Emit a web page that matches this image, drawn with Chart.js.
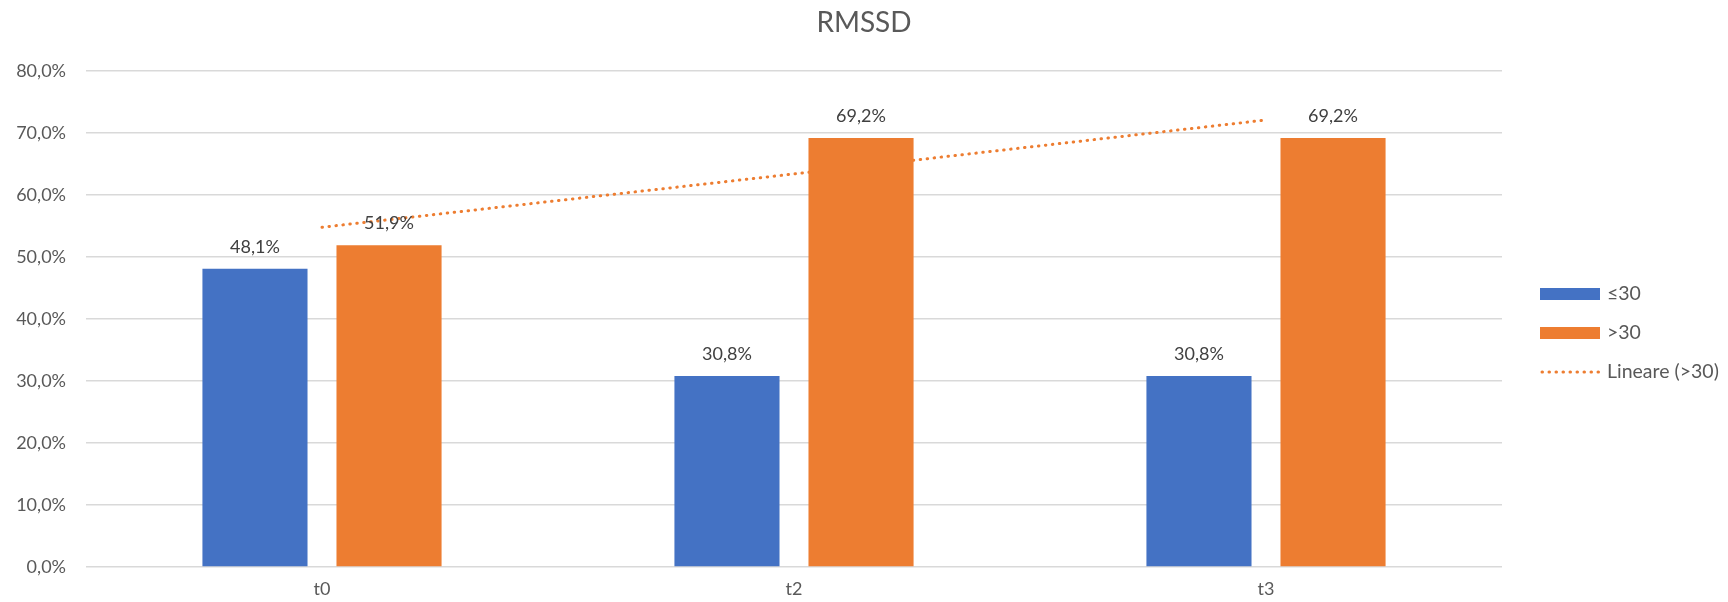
<!DOCTYPE html>
<html>
<head>
<meta charset="utf-8">
<title>RMSSD</title>
<script src="https://cdn.jsdelivr.net/npm/chart.js@4.4.1/dist/chart.umd.min.js"></script>
<style>
  html, body { margin: 0; padding: 0; background: #ffffff; }
  #wrap { width: 1728px; height: 602px; position: relative; }
</style>
</head>
<body>
<div id="wrap"><canvas id="chart" width="1728" height="602"></canvas></div>
<script>
// Time points and percentages per RMSSD group
const categories = ['t0', 't2', 't3'];
const seriesLow = [48.1, 30.8, 30.8];    // ≤30
const seriesHigh = [51.9, 69.2, 69.2];   // >30
const trendHigh = [54.8, 63.4, 72.1];    // linear trend of >30
const seriesNames = ['≤30', '>30', 'Lineare (>30)'];
const yTicks = [0, 10, 20, 30, 40, 50, 60, 70, 80];
const chartTitle = 'RMSSD';

const FONT = 'Lato, "Open Sans", sans-serif';
const BLUE = '#4472C4';
const ORANGE = '#ED7D31';
const TEXT = '#595959';

const fmt = v => v.toFixed(1).replace('.', ',') + '%';

// title centred on the whole canvas
const pageTitle = {
  id: 'pageTitle',
  afterDraw(chart) {
    const ctx = chart.ctx;
    ctx.save();
    ctx.font = '28px ' + FONT;
    ctx.fillStyle = TEXT;
    ctx.textAlign = 'center';
    ctx.textBaseline = 'middle';
    ctx.fillText(chartTitle, chart.width / 2, 23);
    ctx.restore();
  }
};

// value labels above each bar
const barLabels = {
  id: 'barLabels',
  afterDatasetsDraw(chart) {
    const ctx = chart.ctx;
    ctx.save();
    ctx.font = '18px ' + FONT;
    ctx.fillStyle = '#404040';
    ctx.textAlign = 'center';
    ctx.textBaseline = 'bottom';
    chart.data.datasets.forEach((ds, i) => {
      if (ds.type === 'line') return;
      const meta = chart.getDatasetMeta(i);
      meta.data.forEach((bar, j) => {
        ctx.fillText(fmt(ds.data[j]), bar.x, bar.y - 13);
      });
    });
    ctx.restore();
  }
};

// legend on the right side
const sideLegend = {
  id: 'sideLegend',
  afterDraw(chart) {
    const ctx = chart.ctx;
    const x0 = chart.chartArea.right + 38;
    const yStart = 294;
    const step = 39;
    ctx.save();
    ctx.font = '19.5px ' + FONT;
    ctx.textBaseline = 'middle';
    ctx.textAlign = 'left';
    chart.data.datasets.forEach((ds, i) => {
      const y = yStart + i * step;
      if (ds.type === 'line') {
        ctx.strokeStyle = ds.borderColor;
        ctx.lineWidth = 3;
        ctx.lineCap = 'round';
        ctx.setLineDash([0.5, 6.5]);
        ctx.beginPath();
        ctx.moveTo(x0 + 2, y);
        ctx.lineTo(x0 + 60, y);
        ctx.stroke();
        ctx.setLineDash([]);
      } else {
        ctx.fillStyle = ds.backgroundColor;
        ctx.fillRect(x0, y - 6, 60, 12);
      }
      ctx.fillStyle = TEXT;
      ctx.fillText(ds.label, x0 + 67, y);
    });
    ctx.restore();
  }
};

new Chart(document.getElementById('chart'), {
  type: 'bar',
  data: {
    labels: categories,
    datasets: [
      {
        label: seriesNames[0],
        data: seriesLow,
        backgroundColor: BLUE,
        categoryPercentage: 0.568,
        barPercentage: 0.784,
        order: 1
      },
      {
        label: seriesNames[1],
        data: seriesHigh,
        backgroundColor: ORANGE,
        categoryPercentage: 0.568,
        barPercentage: 0.784,
        order: 1
      },
      {
        type: 'line',
        label: seriesNames[2],
        data: trendHigh,
        borderColor: ORANGE,
        borderWidth: 3,
        borderCapStyle: 'round',
        borderDash: [0.5, 6.5],
        pointRadius: 0,
        fill: false,
        tension: 0,
        order: 3
      }
    ]
  },
  options: {
    responsive: false,
    animation: false,
    devicePixelRatio: 1,
    layout: { padding: { left: 14, right: 226, top: 71, bottom: 5 } },
    plugins: {
      legend: { display: false },
      tooltip: { enabled: false },
      title: { display: false }
    },
    scales: {
      x: {
        grid: { display: false, drawTicks: false, tickLength: 0 },
        border: { display: false },
        afterFit(axis) { axis.height = 30; },
        ticks: { color: TEXT, font: { family: FONT, size: 18 }, padding: 11 }
      },
      y: {
        min: 0,
        max: 80,
        afterBuildTicks(axis) { axis.ticks = yTicks.map(v => ({ value: v })); },
        afterFit(axis) { axis.width = 72; },
        grid: { color: '#D9D9D9', lineWidth: 1.5, drawTicks: false },
        border: { display: false },
        ticks: { color: TEXT, font: { family: FONT, size: 18 }, padding: 20, callback: v => fmt(v) }
      }
    }
  },
  plugins: [barLabels, sideLegend, pageTitle]
});
</script>
</body>
</html>
